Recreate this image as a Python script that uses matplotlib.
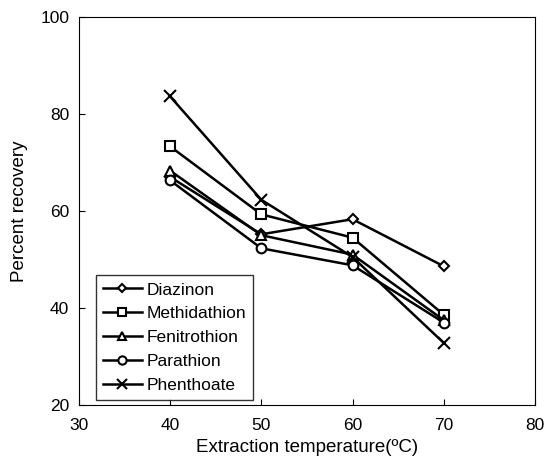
import matplotlib
matplotlib.use("Agg")
import matplotlib.pyplot as plt

plt.rcParams['font.family'] = ['Liberation Sans', 'DejaVu Sans']

temps = [40, 50, 60, 70]
diazinon = [67.0, 55.2, 58.3, 48.6]
methidathion = [73.3, 59.3, 54.5, 38.6]
fenitrothion = [68.3, 55.0, 51.0, 37.5]
parathion = [66.3, 52.3, 48.8, 37.0]
phenthoate = [83.6, 62.3, 50.5, 32.8]

series = [
    ("Diazinon", diazinon, "D", 5),
    ("Methidathion", methidathion, "s", 7),
    ("Fenitrothion", fenitrothion, "^", 7),
    ("Parathion", parathion, "o", 7),
    ("Phenthoate", phenthoate, "x", 8),
]

fig = plt.figure(figsize=(5.5, 4.58), dpi=100)
ax = fig.add_axes([0.1436, 0.1157, 0.8290, 0.8473])

for name, vals, m, ms in series:
    ax.plot(temps, vals, color='black', lw=1.8, marker=m, markersize=ms,
            markerfacecolor='white', markeredgecolor='black', markeredgewidth=1.5,
            label=name)

ax.set_xlim(30, 80)
ax.set_ylim(20, 100)
ax.set_xticks([30, 40, 50, 60, 70, 80])
ax.set_yticks([20, 40, 60, 80, 100])
ax.tick_params(direction='in', length=4, labelsize=12.5, top=False, right=False)
ax.tick_params(axis='y', pad=7)
ax.tick_params(axis='x', pad=9)
ax.set_xlabel("Extraction temperature(\u00baC)", fontsize=13.5, labelpad=5)
ax.set_ylabel("Percent recovery", fontsize=13.5, labelpad=9)

leg = ax.legend(loc='lower left', bbox_to_anchor=(0.025, 0.0), fontsize=12.5,
                frameon=True, fancybox=False, edgecolor='black', handlelength=2.3,
                borderpad=0.4, labelspacing=0.5, handletextpad=0.25,
                borderaxespad=0.3, markerscale=0.85)
leg.get_frame().set_linewidth(1.0)

fig.savefig("out.png", dpi=100)
